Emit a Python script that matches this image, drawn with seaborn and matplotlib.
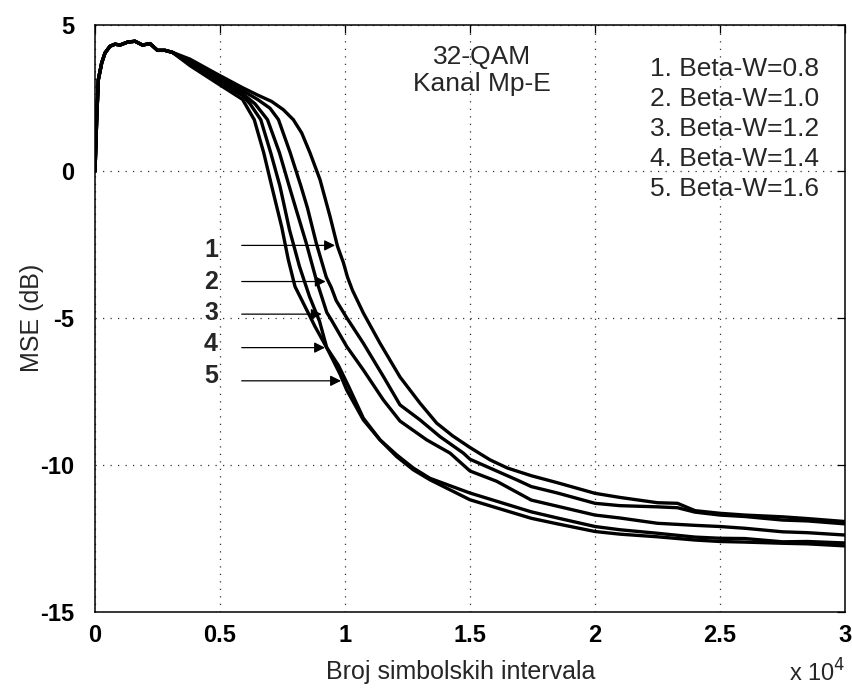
import numpy as np
import pandas as pd
import matplotlib
matplotlib.use("Agg")
import matplotlib.pyplot as plt
import seaborn as sns

# ---------------- data ----------------
head_x = [0, 67, 133, 267, 400, 600, 800, 1000, 1300, 1600, 1900, 2200, 2500, 2800, 3100]
head_y = [0.0, 1.76, 3.12, 3.69, 4.03, 4.26, 4.33, 4.30, 4.40, 4.43, 4.30, 4.35, 4.12, 4.12, 4.05]

c1_x = [3800, 4800, 5900, 6500, 7067, 7533, 7933, 8267, 8600, 9000, 9400, 9700, 9933, 10100,
        10300, 10733, 11400, 12200, 13000, 13667, 14300, 15000, 15800, 16500, 17450, 18500,
        20000, 21000, 22500, 23300, 24000, 25000, 26000, 27500, 28500, 30000]
c1_y = [3.82, 3.35, 2.85, 2.60, 2.38, 2.10, 1.76, 1.31, 0.63, -0.28, -1.53, -2.55, -3.10, -3.60,
        -4.05, -4.82, -5.85, -7.00, -7.89, -8.57, -9.00, -9.40, -9.82, -10.10, -10.36, -10.60,
        -10.96, -11.10, -11.28, -11.30, -11.55, -11.64, -11.70, -11.76, -11.82, -11.92]

c2_x = [3800, 4800, 5900, 6500, 7000, 7340, 7810, 8240, 8500, 8850, 9250, 9450, 9650, 10067,
        10733, 11533, 12200, 13000, 13800, 14733, 15000, 15800, 16867, 17450, 18500, 20000,
        21000, 22500, 23300, 24000, 25000, 26000, 27500, 28500, 30000]
c2_y = [3.76, 3.28, 2.75, 2.45, 2.15, 1.76, 0.63, -0.51, -1.25, -2.44, -3.60, -3.95, -4.40, -4.98,
        -5.85, -6.98, -7.95, -8.46, -9.03, -9.59, -9.80, -10.10, -10.50, -10.73, -10.95, -11.30,
        -11.38, -11.42, -11.45, -11.60, -11.70, -11.75, -11.87, -11.90, -12.00]

c3_x = [3800, 4800, 5900, 6400, 6900, 7380, 7770, 8050, 8450, 8850, 9270, 9450, 10067, 10733,
        11533, 12200, 13267, 14200, 15000, 16067, 17450, 18500, 20000, 21000, 22500, 24000,
        25000, 26000, 27500, 28500, 30000]
c3_y = [3.70, 3.20, 2.65, 2.30, 1.76, 0.63, -0.51, -1.31, -2.44, -3.69, -4.80, -5.05, -5.96, -6.76,
        -7.78, -8.50, -9.14, -9.59, -10.20, -10.55, -11.19, -11.40, -11.70, -11.80, -11.98, -12.05,
        -12.09, -12.15, -12.27, -12.30, -12.38]

c4_x = [3800, 4800, 5900, 6200, 6630, 7030, 7400, 7780, 8180, 8580, 8980, 9270, 9733, 10133,
        10733, 11400, 12067, 12733, 13400, 15000, 17450, 18500, 20000, 21000, 22500, 24000,
        25000, 26000, 27500, 28500, 30000]
c4_y = [3.65, 3.12, 2.58, 2.30, 1.76, 0.63, -0.51, -1.99, -3.24, -4.26, -5.10, -6.00, -6.60, -7.30,
        -8.40, -9.14, -9.65, -10.10, -10.45, -10.95, -11.59, -11.80, -12.09, -12.20, -12.32, -12.45,
        -12.49, -12.50, -12.61, -12.60, -12.65]

c5_x = [3800, 4800, 5900, 6370, 6750, 7070, 7470, 7730, 8000, 8400, 8800, 9300, 9800, 10067,
        10733, 11400, 12067, 12733, 13400, 15000, 17450, 18500, 20000, 21000, 22500, 24000,
        25000, 26000, 27500, 28500, 30000]
c5_y = [3.60, 3.05, 2.45, 1.76, 0.63, -0.51, -1.90, -3.00, -3.92, -4.60, -5.28, -6.05, -6.90, -7.44,
        -8.46, -9.14, -9.71, -10.16, -10.50, -11.18, -11.81, -12.00, -12.26, -12.35, -12.44, -12.55,
        -12.60, -12.62, -12.66, -12.68, -12.75]

curve_names = ["1", "2", "3", "4", "5"]
legend_lines = ["1. Beta-W=0.8", "2. Beta-W=1.0", "3. Beta-W=1.2", "4. Beta-W=1.4", "5. Beta-W=1.6"]

x_ticks = [0, 5000, 10000, 15000, 20000, 25000, 30000]
x_tick_labels = ["0", "0.5", "1", "1.5", "2", "2.5", "3"]
y_ticks = [-15, -10, -5, 0, 5]
y_tick_labels = ["-15", "-10", "-5", "0", "5"]

# arrow annotations: label position, arrow start and tip
ann_label_x = 4640
ann_label_y = [-2.69, -3.78, -4.81, -5.87, -6.96]
arrow_start_x = 5868
arrow_y = [-2.52, -3.75, -4.86, -6.00, -7.13]
arrow_tip_x = [9600, 9228, 9068, 9200, 9840]

# ---------------- build table ----------------
xs = [c1_x, c2_x, c3_x, c4_x, c5_x]
ys = [c1_y, c2_y, c3_y, c4_y, c5_y]
frames = []
for name, cx, cy in zip(curve_names, xs, ys):
    frames.append(pd.DataFrame({"x": head_x + cx, "mse": head_y + cy, "curve": name}))
df = pd.concat(frames, ignore_index=True)

# ---------------- plot ----------------
sns.set_style("white")
plt.rcParams["font.family"] = ["Liberation Sans", "DejaVu Sans"]
plt.rcParams["xtick.direction"] = "in"
plt.rcParams["ytick.direction"] = "in"

fig = plt.figure(figsize=(8.53, 6.89), dpi=100)
ax = fig.add_axes([95 / 853, 1 - 612 / 689, 750 / 853, (612 - 24.5) / 689])

sns.lineplot(data=df, x="x", y="mse", hue="curve", palette=["black"] * 5,
             estimator=None, sort=False, legend=False, linewidth=2.4, ax=ax)

ax.set_xlim(0, 30000)
ax.set_ylim(-15, 5)
ax.set_xticks(x_ticks)
ax.set_xticklabels(x_tick_labels, fontweight="bold")
ax.set_yticks(y_ticks)
ax.set_yticklabels(y_tick_labels, fontweight="bold")
ax.tick_params(axis="both", which="both", direction="in", length=6, width=0.9,
               top=True, right=True, labelsize=17, colors="black")
ax.tick_params(axis="x", pad=9)
ax.tick_params(axis="y", pad=15)
ax.grid(True, linestyle=(0, (1, 5)), color="0.2", linewidth=0.9)
for sp in ax.spines.values():
    sp.set_visible(True)
    sp.set_color("black")
    sp.set_linewidth(1.1)

ax.set_xlabel("Broj simbolskih intervala", fontsize=18)
ax.set_ylabel("MSE (dB)", fontsize=18)
ax.xaxis.set_label_coords(0.487, -0.082)
ax.yaxis.set_label_coords(-0.068, 0.5)

ax.text(1.0, -0.119, r"x 10$^{4}$", transform=ax.transAxes, ha="right",
        va="baseline", fontsize=17)

# title block
ax.text(15480, 3.90, "32-QAM", ha="center", va="center", fontsize=19)
ax.text(15480, 2.98, "Kanal Mp-E", ha="center", va="center", fontsize=19)

legend_y = [3.50, 2.48, 1.45, 0.43, -0.59]
for txt, yy in zip(legend_lines, legend_y):
    ax.text(22200, yy, txt, ha="left", va="center", fontsize=19)

for lab, ly, ay, tx in zip(curve_names, ann_label_y, arrow_y, arrow_tip_x):
    ax.text(ann_label_x, ly, lab, ha="center", va="center", fontsize=18, fontweight="bold")
    ax.annotate("", xy=(tx, ay), xytext=(arrow_start_x, ay),
                arrowprops=dict(arrowstyle="-|>", color="black", lw=0.9,
                                mutation_scale=16, shrinkA=0, shrinkB=0))

fig.savefig("out.png", dpi=100, facecolor="white")
